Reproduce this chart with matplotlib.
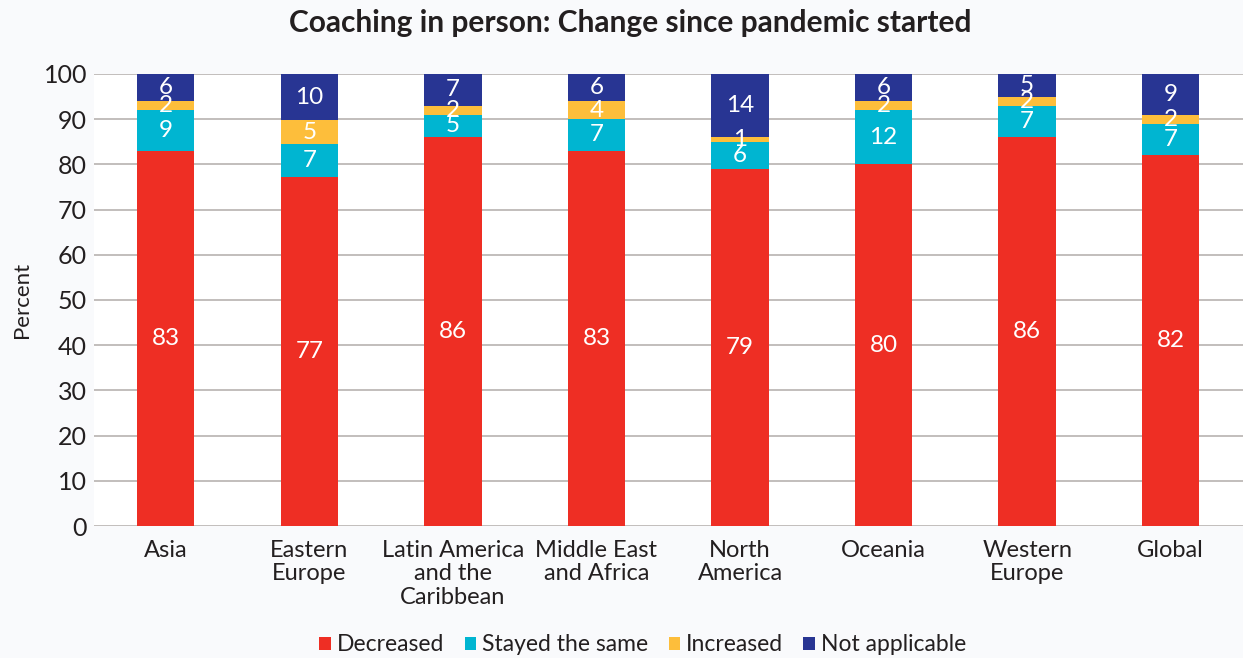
import numpy as np
import matplotlib.pyplot as plt

plt.rcParams['font.family'] = ['Lato', 'DejaVu Sans']

# ---- data ----
regions = ["Asia", "Eastern\nEurope", "Latin America\nand the\nCaribbean",
           "Middle East\nand Africa", "North\nAmerica", "Oceania",
           "Western\nEurope", "Global"]
decreased = [83, 77.2, 86, 83, 79, 80, 86, 82]
stayed_same = [9, 7.3, 5, 7, 6, 12, 7, 7]
increased = [2, 5.3, 2, 4, 1, 2, 2, 2]
not_applicable = [6, 10.2, 7, 6, 14, 6, 5, 9]

series = [
    ("Decreased", decreased, "#EE2E24"),
    ("Stayed the same", stayed_same, "#00B5D1"),
    ("Increased", increased, "#FDBE3B"),
    ("Not applicable", not_applicable, "#283593"),
]

TXT = "#231F20"

# ---- figure ----
fig = plt.figure(figsize=(12.43, 6.58), dpi=100, facecolor="#F9FAFC")
ax = fig.add_axes([0.0756, 0.2006, 0.924, 0.687])
ax.set_facecolor("white")

x = np.arange(len(regions))
bottom = np.zeros(len(regions))
for name, vals, color in series:
    vals = np.array(vals, dtype=float)
    ax.bar(x, vals, width=0.4, bottom=bottom, color=color, label=name,
           zorder=3, clip_on=False)
    for xi, b, v in zip(x, bottom, vals):
        ax.text(xi, b + v / 2, f"{v:.0f}", ha="center", va="center",
                color="white", fontsize=17.5, zorder=4)
    bottom += vals

ax.set_xlim(-0.5, len(regions) - 0.5)
ax.set_ylim(0, 100)
ax.set_yticks(np.arange(0, 101, 10))
ax.yaxis.grid(True, color="#BDB9B6", linewidth=1.3, zorder=0)
ax.set_axisbelow(True)
for s in ax.spines.values():
    s.set_visible(False)
ax.tick_params(axis="both", length=0, labelsize=18, colors=TXT)
ax.tick_params(axis="x", pad=10, labelsize=17)
ax.tick_params(axis="y", pad=5)
ax.set_xticks(x)
ax.set_xticklabels(regions, linespacing=1.15)
ax.set_ylabel("Percent", fontsize=16, color=TXT, labelpad=8)

fig.text(0.507, 0.965, "Coaching in person: Change since pandemic started",
         ha="center", va="center", fontsize=21.5, fontweight="bold",
         color=TXT)

handles, labels = ax.get_legend_handles_labels()
fig.legend(handles, labels, loc="center", bbox_to_anchor=(0.517, 0.02),
           ncol=4, frameon=False, fontsize=16.5, handlelength=0.5,
           handleheight=0.5, handletextpad=0.25, columnspacing=0.9,
           labelcolor=TXT)

fig.savefig("out.png", dpi=100, facecolor=fig.get_facecolor())
